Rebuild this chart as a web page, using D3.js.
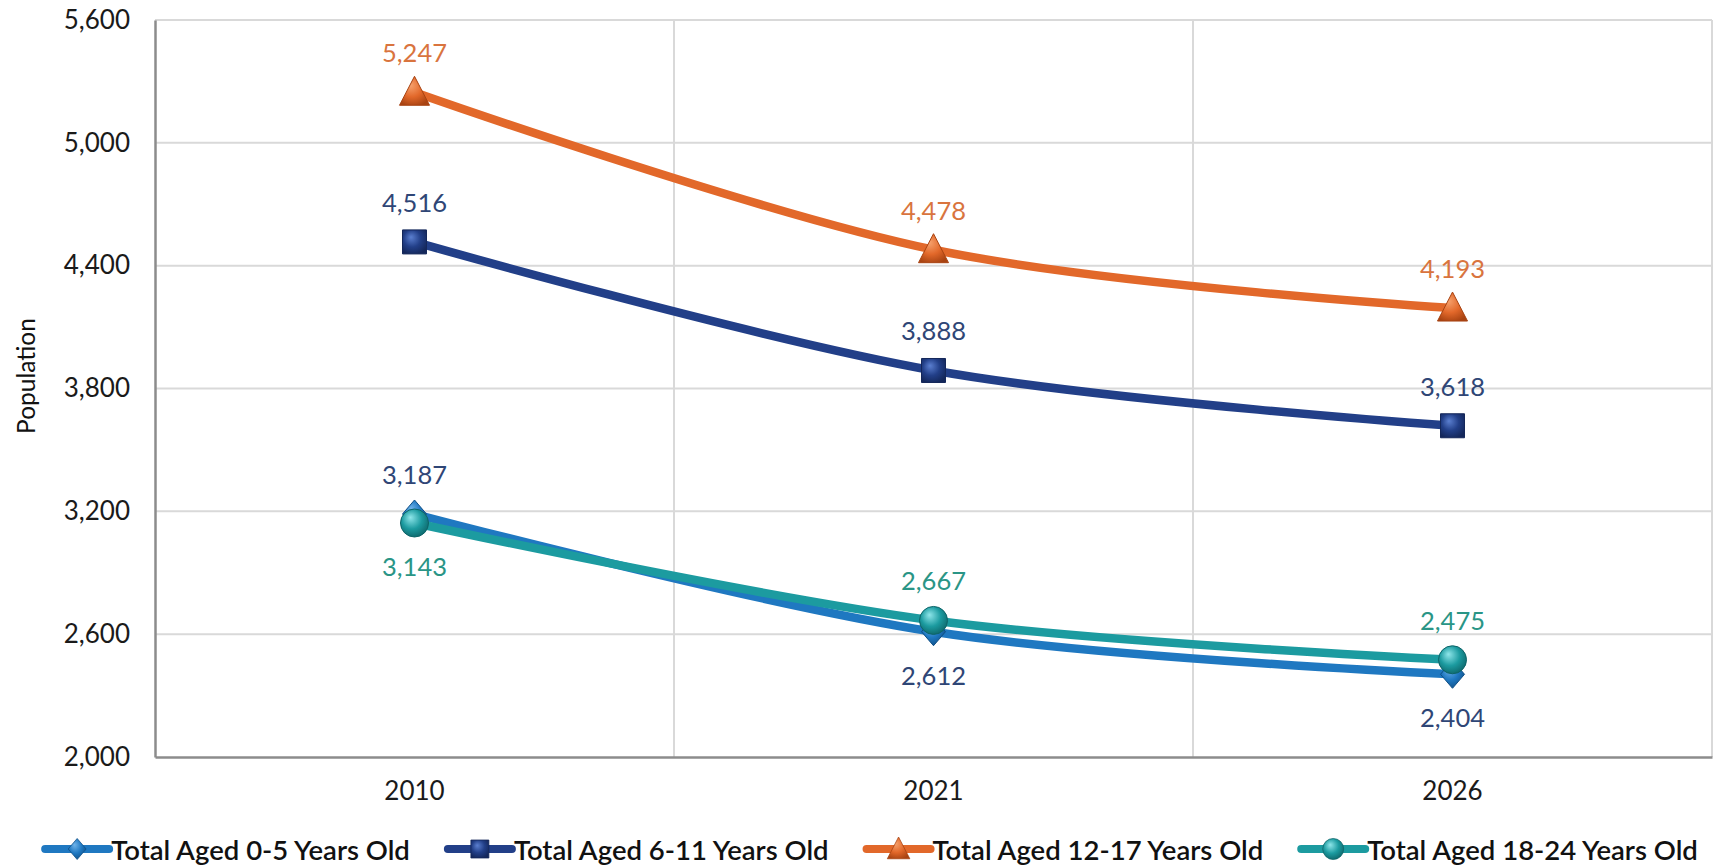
<!DOCTYPE html>
<html>
<head>
<meta charset="utf-8">
<script src="https://cdn.jsdelivr.net/npm/d3@7"></script>
<style>
  body { margin: 0; background: #fff; }
  svg { display: block; }
</style>
</head>
<body>
<script>
// chart data
const years = ["2010", "2021", "2026"];
const seriesNames = [
  "Total Aged 0-5 Years Old",
  "Total Aged 6-11 Years Old",
  "Total Aged 12-17 Years Old",
  "Total Aged 18-24 Years Old"
];
const aged0to5 = [3187, 2612, 2404];
const aged6to11 = [4516, 3888, 3618];
const aged12to17 = [5247, 4478, 4193];
const aged18to24 = [3143, 2667, 2475];
const yTicks = [2000, 2600, 3200, 3800, 4400, 5000, 5600];
// label above (-1) or below (1) the point
const labelSide0to5 = [-1, 1, 1];
const labelSide6to11 = [-1, -1, -1];
const labelSide12to17 = [-1, -1, -1];
const labelSide18to24 = [1, -1, -1];

const w = 1727,
  h = 868;

const series = [
  { name: seriesNames[0], values: aged0to5, side: labelSide0to5, line: "#1f78c1", label: "#2f4676", marker: "diamond", light: "#6fb3ea", dark: "#0f4f86" },
  { name: seriesNames[1], values: aged6to11, side: labelSide6to11, line: "#223f88", label: "#2f4676", marker: "square", light: "#5b7fd0", dark: "#14275a" },
  { name: seriesNames[2], values: aged12to17, side: labelSide12to17, line: "#e2682a", label: "#d9743e", marker: "triangle", light: "#f7a470", dark: "#a84312" },
  { name: seriesNames[3], values: aged18to24, side: labelSide18to24, line: "#1c9ba0", label: "#2a9586", marker: "circle", light: "#8fe6ea", dark: "#0d6468" }
];

const svg = d3
  .select("body")
  .append("svg")
  .attr("width", w)
  .attr("height", h);

const defs = svg.append("defs");
series.forEach(function (s, i) {
  var grad = defs
    .append("radialGradient")
    .attr("id", "mk" + i)
    .attr("cx", "45%")
    .attr("cy", "40%")
    .attr("r", "65%")
    .attr("fx", "35%")
    .attr("fy", "30%");
  grad.append("stop").attr("offset", "0%").attr("stop-color", s.light);
  grad.append("stop").attr("offset", "55%").attr("stop-color", s.line);
  grad.append("stop").attr("offset", "100%").attr("stop-color", s.dark);
});

const x = d3.scaleBand().domain(years).range([155, 1712]);
const y = d3.scaleLinear().domain([2000, 5600]).range([757, 20]);
const cx = function (d) {
  return x(d) + x.bandwidth() / 2;
};

// gridlines
svg
  .append("g")
  .selectAll("line")
  .data(yTicks.slice(1))
  .enter()
  .append("line")
  .attr("x1", 155)
  .attr("x2", 1712)
  .attr("y1", function (d) { return y(d); })
  .attr("y2", function (d) { return y(d); })
  .attr("stroke", "#d9d9d9")
  .attr("stroke-width", 2);

svg
  .append("g")
  .selectAll("line")
  .data(years.slice(1).concat(["end"]))
  .enter()
  .append("line")
  .attr("x1", function (d, i) { return x.range()[0] + x.bandwidth() * (i + 1); })
  .attr("x2", function (d, i) { return x.range()[0] + x.bandwidth() * (i + 1); })
  .attr("y1", 20)
  .attr("y2", 757)
  .attr("stroke", "#d9d9d9")
  .attr("stroke-width", 2);

// axes
const yAxis = svg
  .append("g")
  .attr("transform", "translate(155,0)")
  .call(
    d3
      .axisLeft(y)
      .tickValues(yTicks)
      .tickSize(0)
      .tickPadding(25)
      .tickFormat(d3.format(","))
  );
yAxis.select(".domain").attr("stroke", "#8c8c8c").attr("stroke-width", 2.5);
yAxis
  .selectAll("text")
  .attr("font-family", "Lato, sans-serif")
  .attr("font-size", 26)
  .attr("fill", "#1a1a1a");

const xAxis = svg
  .append("g")
  .attr("transform", "translate(0,757)")
  .call(d3.axisBottom(x).tickSize(0).tickPadding(25));
xAxis.select(".domain").attr("stroke", "#8c8c8c").attr("stroke-width", 2.5);
xAxis
  .selectAll("text")
  .attr("font-family", "Lato, sans-serif")
  .attr("font-size", 26)
  .attr("fill", "#1a1a1a");

svg
  .append("text")
  .attr("transform", "translate(25,376) rotate(-90)")
  .attr("text-anchor", "middle")
  .attr("dominant-baseline", "central")
  .attr("font-family", "Lato, sans-serif")
  .attr("font-size", 24.5)
  .attr("fill", "#111")
  .text("Population");

const markerPath = function (type) {
  if (type === "diamond") return "M0,-14L12,0L0,14L-12,0Z";
  if (type === "square") return "M-12,-12H12V12H-12Z";
  if (type === "triangle") return "M0,-16L15,13H-15Z";
  return d3.symbol().type(d3.symbolCircle).size(Math.PI * 14 * 14)();
};

const line = d3
  .line()
  .x(function (d, i) { return cx(years[i]); })
  .y(function (d) { return y(d); })
  .curve(d3.curveCardinal.tension(0));

const fmt = d3.format(",");

series.forEach(function (s, si) {
  var g = svg.append("g").attr("class", "series");
  g.append("path")
    .datum(s.values)
    .attr("d", line)
    .attr("fill", "none")
    .attr("stroke", s.line)
    .attr("stroke-width", 8.5)
    .attr("stroke-linejoin", "round");

  g.selectAll(".mark")
    .data(s.values)
    .enter()
    .append("path")
    .attr("class", "mark")
    .attr("transform", function (d, i) {
      return "translate(" + cx(years[i]) + "," + y(d) + ")";
    })
    .attr("d", markerPath(s.marker))
    .attr("fill", "url(#mk" + si + ")")
    .attr("stroke", s.dark)
    .attr("stroke-width", 1);
});

// data labels on top of everything
series.forEach(function (s) {
  svg
    .append("g")
    .selectAll("text")
    .data(s.values)
    .enter()
    .append("text")
    .attr("x", function (d, i) { return cx(years[i]); })
    .attr("y", function (d, i) {
      return y(d) + (s.side[i] < 0 ? -40 : 43);
    })
    .attr("text-anchor", "middle")
    .attr("dominant-baseline", "central")
    .attr("font-family", "Lato, sans-serif")
    .attr("font-size", 25.5)
    .attr("fill", s.label)
    .text(function (d) { return fmt(d); });
});

// legend
const legend = svg.append("g").attr("id", "legend");
const items = legend
  .selectAll("g")
  .data(series)
  .enter()
  .append("g");

items
  .append("text")
  .attr("x", 68)
  .attr("y", 0)
  .attr("dominant-baseline", "central")
  .attr("font-family", "Lato, sans-serif")
  .attr("font-size", 27.5)
  .attr("font-weight", 600)
  .attr("fill", "#111")
  .text(function (d) { return d.name; });

items
  .append("line")
  .attr("x1", 2)
  .attr("x2", 66)
  .attr("stroke", function (d) { return d.line; })
  .attr("stroke-width", 8)
  .attr("stroke-linecap", "round");

items
  .append("path")
  .attr("transform", "translate(34,0) scale(0.75)")
  .attr("d", function (d) { return markerPath(d.marker); })
  .attr("fill", function (d, i) { return "url(#mk" + i + ")"; })
  .attr("stroke", function (d) { return d.dark; });

var widths = [];
items.each(function () {
  widths.push(this.getBBox().width);
});
const gap = 38;
const total = d3.sum(widths) + gap * (widths.length - 1);
var pos = (w - total) / 2 + 6;
items.attr("transform", function (d, i) {
  var t = "translate(" + pos + ",849)";
  pos += widths[i] + gap;
  return t;
});
</script>
</body>
</html>
